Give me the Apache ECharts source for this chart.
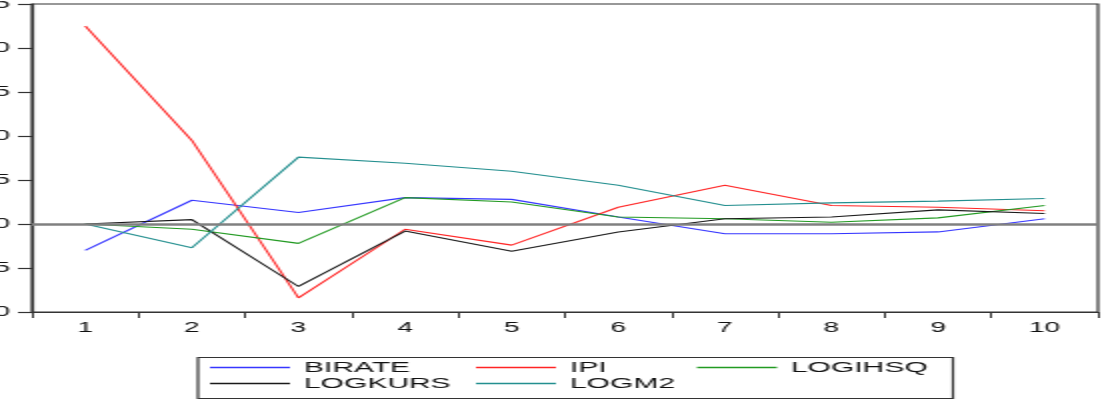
<!DOCTYPE html>
<html><head><meta charset="utf-8">
<script src="https://cdn.jsdelivr.net/npm/echarts@6/dist/echarts.min.js"></script>
<style>
html,body{margin:0;padding:0;background:#fff;overflow:hidden;width:1104px;height:399px}
#c{width:552px;height:399px;transform:scaleX(2);transform-origin:0 0}
</style>
</head><body><div id="c"></div>
<script>
// The reference graph is stretched horizontally by 2x; the chart is drawn at half width and stretched.
const categories = ['1','2','3','4','5','6','7','8','9','10'];
const BIRATE   = [-0.0030, 0.0027, 0.0013, 0.0030, 0.0028, 0.0008, -0.0011, -0.0011, -0.0009, 0.0006];
const IPI      = [0.0225, 0.0095, -0.0084, -0.0006, -0.0024, 0.0019, 0.0044, 0.0021, 0.0019, 0.0015];
const LOGIHSQ  = [0.0000, -0.0006, -0.0022, 0.0030, 0.0025, 0.0008, 0.0006, 0.0002, 0.0007, 0.0021];
const LOGKURS  = [0.0000, 0.0005, -0.0071, -0.0008, -0.0031, -0.0009, 0.0006, 0.0008, 0.0016, 0.0012];
const LOGM2    = [0.0000, -0.0027, 0.0076, 0.0069, 0.0060, 0.0044, 0.0021, 0.0024, 0.0026, 0.0029];
const yMin = -0.010, yMax = 0.025, yStep = 0.005;

const names = ['BIRATE','IPI','LOGIHSQ','LOGKURS','LOGM2'];
const values = [BIRATE, IPI, LOGIHSQ, LOGKURS, LOGM2];
const colors = ['#3636ff','#ff2424','#229a22','#1a1a1a','#238f8f'];
const font = 'Liberation Sans, Arial, sans-serif';

const series = names.map((n,i)=>({
  name:n, type:'line', data:values[i], symbol:'none', silent:true,
  lineStyle:{color:colors[i], width:1.1}, itemStyle:{color:colors[i]}, z:3
}));
series[0].markLine = {silent:true, symbol:['none','none'], label:{show:false},
  emphasis:{disabled:true},
  lineStyle:{color:'#808080', width:2.6, type:'solid', opacity:1},
  data:[{yAxis:0, lineStyle:{color:'#808080', width:2.6, type:'solid'}}]};

const legendPos = [
  {n:'BIRATE', left:105, top:360},
  {n:'IPI', left:238, top:360},
  {n:'LOGIHSQ', left:348.5, top:360},
  {n:'LOGKURS', left:105, top:376},
  {n:'LOGM2', left:238, top:376}
];
const legends = legendPos.map(p=>({
  data:[p.n], left:p.left, top:p.top, icon:'rect', itemWidth:40, itemHeight:1.5,
  itemGap:0, padding:0, selectedMode:false,
  textStyle:{fontFamily:font, fontSize:15, color:'#111', padding:[0,0,0,2]}
}));

const chart = echarts.init(document.getElementById('c'), null, {renderer:'canvas', width:552, height:399});
chart.setOption({
  animation:false,
  backgroundColor:'#fff',
  grid:{left:16, right:3, top:4, bottom:87, containLabel:false, outerBoundsMode:'none',
    show:true, borderColor:'#333', borderWidth:1.2, backgroundColor:'transparent'},
  legend:legends,
  graphic:[{type:'rect', left:96.5, top:355, shape:{width:377.5, height:41}, style:{fill:'none', stroke:'#333', lineWidth:1.2}, silent:true}],
  xAxis:{type:'category', data:categories, boundaryGap:true,
    axisLine:{onZero:false, lineStyle:{color:'#333', width:1.2}},
    axisTick:{show:true, alignWithLabel:false, length:6, lineStyle:{color:'#333', width:1}},
    axisLabel:{fontFamily:font, fontSize:14, color:'#111', margin:9}},
  yAxis:{type:'value', min:yMin, max:yMax, interval:yStep,
    axisLine:{show:true, lineStyle:{color:'#333', width:1.2}},
    axisTick:{show:true, length:7, inside:false, lineStyle:{color:'#333', width:1.2}},
    splitLine:{show:false},
    axisLabel:{fontFamily:font, fontSize:14, color:'#111', margin:11, align:'right',
      formatter:v=>{const s=v.toFixed(3); return s.replace(/^(-?)0\./,'$1.');}}},
  series:series
});
</script></body></html>
